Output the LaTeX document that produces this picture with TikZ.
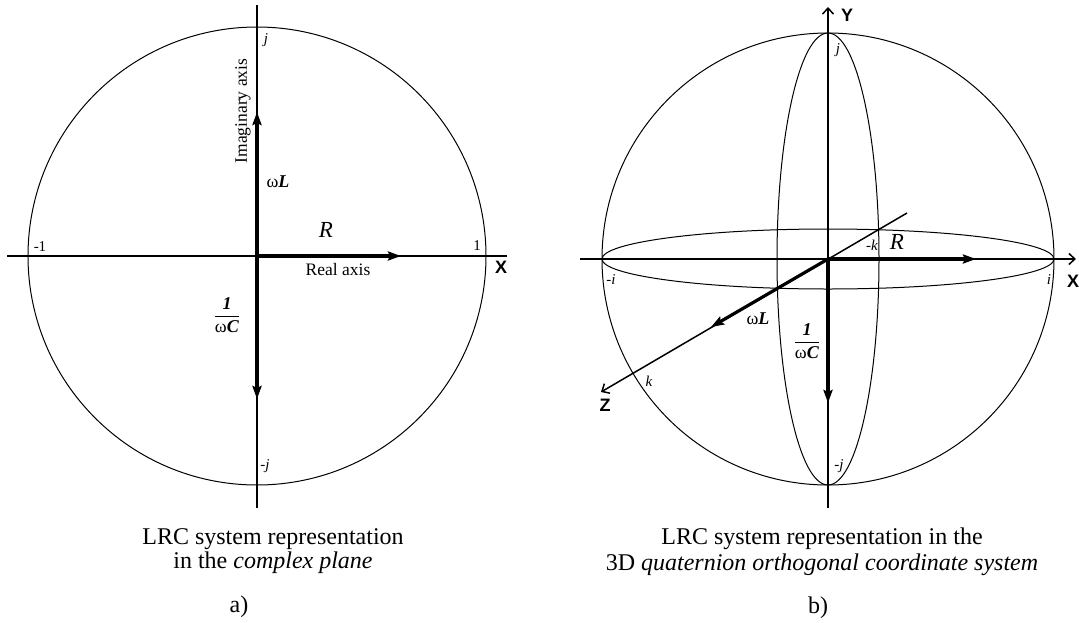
\documentclass[tikz,border=0pt]{standalone}
\usepackage{fontspec}
\setmainfont{Liberation Serif}
\setsansfont{Liberation Sans}
\usetikzlibrary{arrows.meta}
\begin{document}
\begin{tikzpicture}[x=1pt,y=-1pt,
  axis/.style={line width=1.5pt},
  outline/.style={line width=1pt},
  vec/.style={line width=3.2pt,-{Stealth[length=13pt,width=9pt,inset=2pt]}},
  openarrow/.style={-{Straight Barb[length=6pt,width=11pt,line width=1.5pt]}},
  small/.style={font=\fontsize{15}{17}\selectfont, inner sep=0pt},
  axlbl/.style={font=\fontsize{18}{20}\selectfont\sffamily\bfseries, inner sep=0pt},
  vlbl/.style={font=\fontsize{18}{20}\selectfont, inner sep=0pt},
  rlbl/.style={font=\fontsize{23}{25}\selectfont\itshape, inner sep=0pt},
  txt/.style={font=\fontsize{17.5}{19}\selectfont, inner sep=0pt},
  captext/.style={font=\fontsize{24}{28}\selectfont, inner sep=0pt, anchor=base}]
\useasboundingbox (0,0) rectangle (1079,622);
\fill[white] (0,0) rectangle (1079,622);

% ---------- left diagram ----------
\coordinate (O1) at (257,256);
\draw[outline] (O1) circle[radius=229];
\coordinate (L1w) at (7,256);
\coordinate (L1e) at (507,256);
\coordinate (L1n) at (257,5);
\coordinate (L1s) at (257,508);
\draw[axis] (L1w) -- (L1e);
\draw[axis] (L1n) -- (L1s);
\coordinate (L1L) at (257,112);
\coordinate (L1R) at (401,256);
\coordinate (L1C) at (257,399);
\draw[vec] (O1) -- (L1L);
\draw[vec] (O1) -- (L1R);
\draw[vec] (O1) -- (L1C);

\node[axlbl] (X1) at (501,267) {X};
\node[small] (one1) at (477,246) {1};
\node[small] (mone1) at (40,247) {-1};
\node[small] (j1) at (266,40) {\textit{j}};
\node[small] (mj1) at (265,466) {-\textit{j}};
\node[txt, rotate=90] (imag) at (243,111) {Imaginary axis};
\node[vlbl] (wL1) at (278,182) {ω\textbf{\textit{L}}};
\node[rlbl] (R1) at (326,230) {R};
\node[txt] (real) at (338,270) {Real axis};
\node[vlbl] (C1) at (227,315) {$\displaystyle\frac{\mbox{\textbf{\textit{1}}}}{\mbox{ω\textbf{\textit{C}}}}$};

% ---------- right diagram ----------
\coordinate (O2) at (828,259);
\draw[outline] (O2) circle[radius=226];
\draw[outline] (O2) ellipse[x radius=226, y radius=30];
\draw[outline] (O2) ellipse[x radius=51, y radius=226];
\coordinate (X2w) at (580,259);
\coordinate (X2e) at (1076,259);
\coordinate (Y2s) at (828,508);
\coordinate (Y2n) at (828,7);
\coordinate (Z2b) at (907,213);
\coordinate (Z2f) at (601,392);
\draw[axis,openarrow] (X2w) -- (X2e);
\draw[axis,openarrow] (Y2s) -- (Y2n);
\draw[axis,openarrow] (Z2b) -- (Z2f);
\coordinate (R2) at (976,259);
\coordinate (C2) at (828,403);
\coordinate (L2) at (711,327);
\draw[vec] (O2) -- (R2);
\draw[vec] (O2) -- (C2);
\draw[vec] (O2) -- (L2);

\node[axlbl] (Y2) at (847,15) {Y};
\node[axlbl] (X2) at (1073,281) {X};
\node[axlbl] (Z2) at (605,405) {Z};
\node[small] (j2) at (838,50) {\textit{j}};
\node[small] (mj2) at (839,466) {-\textit{j}};
\node[small] (mi2) at (611,280) {-\textit{i}};
\node[small] (i2) at (1049,280) {\textit{i}};
\node[small] (k2) at (649,381) {\textit{k}};
\node[small] (mk2) at (872,245) {-\textit{k}};
\node[rlbl] (R2l) at (897,242) {R};
\node[vlbl] (wL2) at (758,319) {ω\textbf{\textit{L}}};
\node[vlbl] (C2l) at (807,341) {$\displaystyle\frac{\mbox{\textbf{\textit{1}}}}{\mbox{ω\textbf{\textit{C}}}}$};

% ---------- captions ----------
\node[captext] (capA1) at (273,544) {LRC system representation};
\node[captext] (capA2) at (273,568) {in the \textit{complex plane}};
\node[captext] (capA3) at (239,612) {a)};
\node[captext] (capB1) at (822,544) {LRC system representation in the};
\node[captext] (capB2) at (822,570) {3D \textit{quaternion orthogonal coordinate system}};
\node[captext] (capB3) at (818,613) {b)};
\end{tikzpicture}
\end{document}
